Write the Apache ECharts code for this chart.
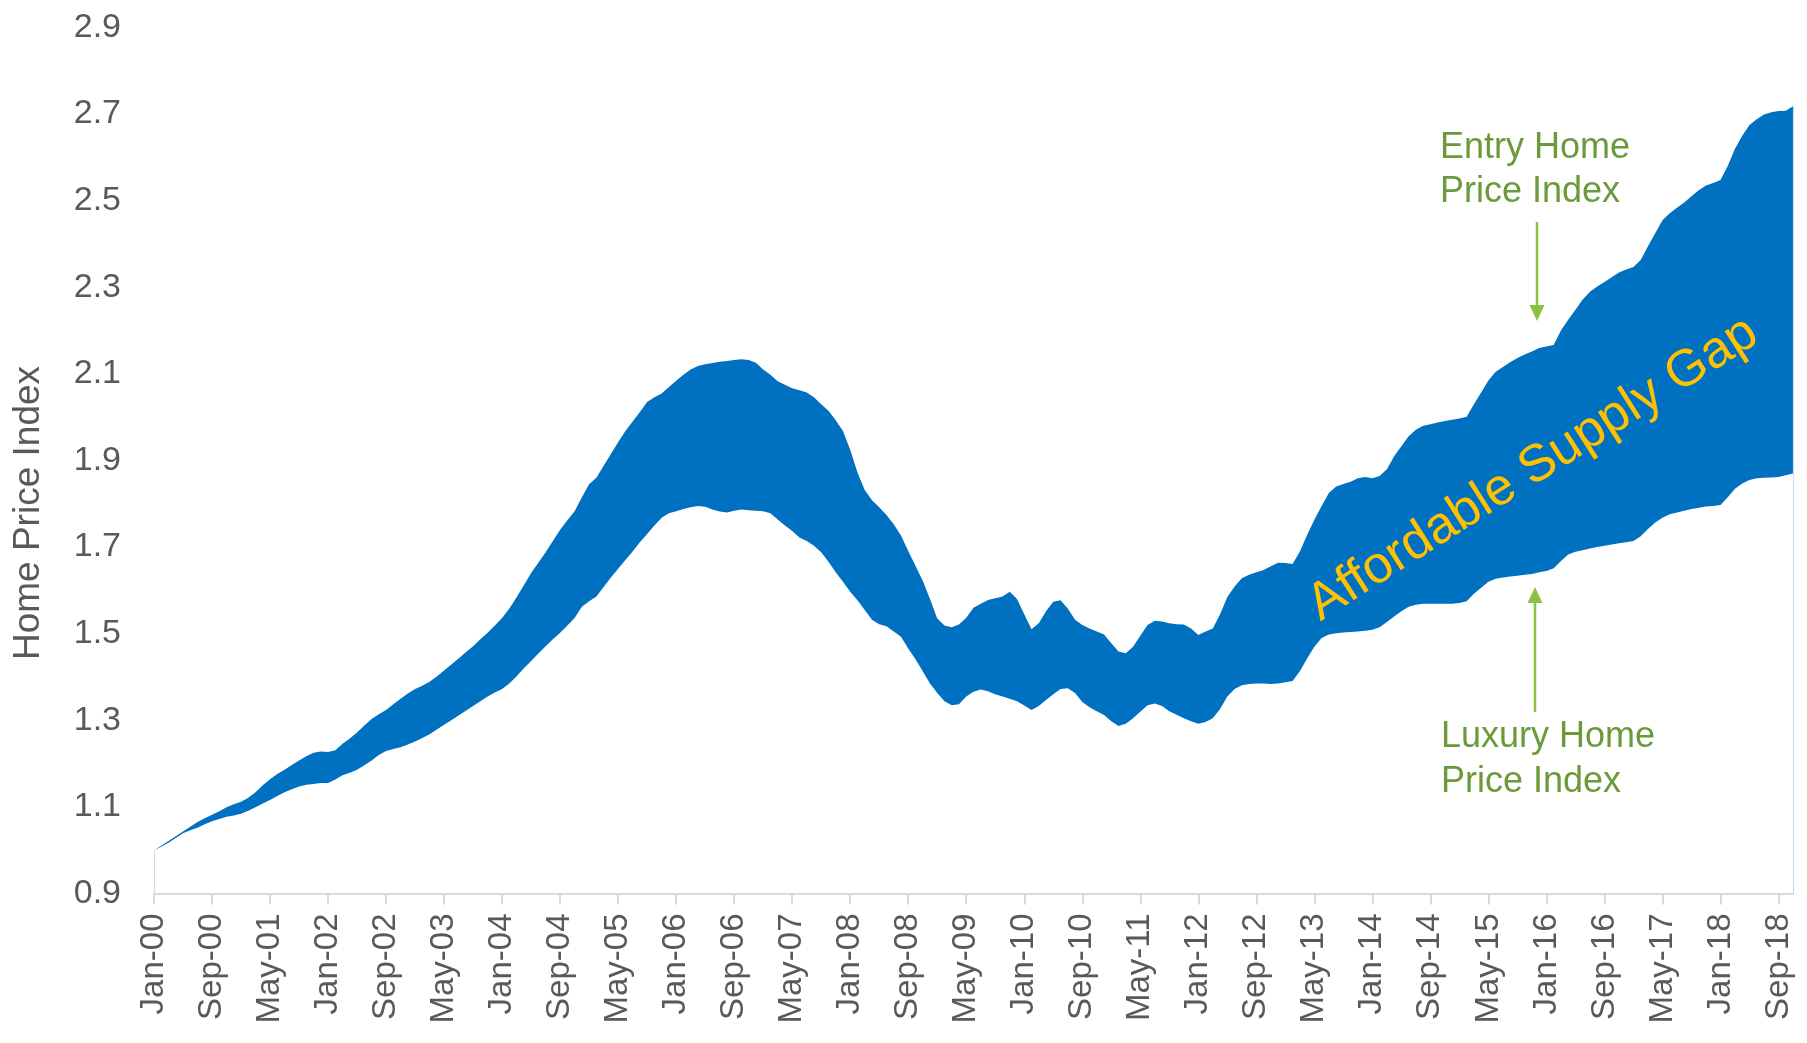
<!DOCTYPE html>
<html>
<head>
<meta charset="utf-8">
<title>Home Price Index</title>
<script src="https://cdn.jsdelivr.net/npm/echarts@6/dist/echarts.min.js"></script>
<style>
  html, body { margin: 0; padding: 0; background: #ffffff; }
  #chart { width: 1807px; height: 1043px; }
</style>
</head>
<body>
<div id="chart"></div>
<script>
// Monthly index values, Jan-2000 (= 1.0) through Nov-2018
const entryIndex = [
  1.000, 1.010, 1.021, 1.032, 1.043, 1.054, 1.065, 1.074, 1.082, 1.090, 1.099, 1.106,
  1.112, 1.121, 1.134, 1.150, 1.164, 1.176, 1.186, 1.197, 1.207, 1.217, 1.225, 1.228,
  1.227, 1.231, 1.246, 1.258, 1.272, 1.288, 1.303, 1.314, 1.324, 1.337, 1.350, 1.362,
  1.372, 1.380, 1.389, 1.401, 1.415, 1.429, 1.443, 1.457, 1.471, 1.487, 1.502, 1.519,
  1.536, 1.558, 1.584, 1.612, 1.640, 1.664, 1.688, 1.714, 1.740, 1.762, 1.783, 1.815,
  1.845, 1.860, 1.888, 1.915, 1.942, 1.968, 1.990, 2.012, 2.035, 2.046, 2.055, 2.070,
  2.084, 2.098, 2.110, 2.118, 2.122, 2.125, 2.128, 2.130, 2.132, 2.134, 2.132, 2.126,
  2.110, 2.098, 2.083, 2.075, 2.067, 2.062, 2.057, 2.046, 2.030, 2.015, 1.993, 1.968,
  1.925, 1.872, 1.832, 1.808, 1.792, 1.774, 1.753, 1.727, 1.691, 1.657, 1.622, 1.580,
  1.535, 1.519, 1.515, 1.521, 1.537, 1.560, 1.569, 1.578, 1.582, 1.586, 1.597, 1.580,
  1.545, 1.510, 1.524, 1.552, 1.574, 1.577, 1.558, 1.532, 1.520, 1.512, 1.505, 1.498,
  1.478, 1.459, 1.455, 1.470, 1.495, 1.520, 1.530, 1.528, 1.524, 1.522, 1.521, 1.512,
  1.497, 1.505, 1.512, 1.545, 1.585, 1.609, 1.628, 1.636, 1.642, 1.647, 1.656, 1.664,
  1.663, 1.661, 1.690, 1.728, 1.763, 1.795, 1.825, 1.840, 1.846, 1.851, 1.859, 1.862,
  1.859, 1.864, 1.880, 1.910, 1.933, 1.956, 1.971, 1.980, 1.984, 1.988, 1.991, 1.994,
  1.997, 2.001, 2.030, 2.057, 2.085, 2.105, 2.116, 2.127, 2.137, 2.145, 2.152, 2.160,
  2.163, 2.167, 2.200, 2.225, 2.248, 2.272, 2.290, 2.302, 2.312, 2.323, 2.334, 2.341,
  2.347, 2.363, 2.395, 2.425, 2.455, 2.471, 2.484, 2.496, 2.510, 2.524, 2.535, 2.541,
  2.548, 2.580, 2.620, 2.650, 2.675, 2.688, 2.699, 2.704, 2.707, 2.708, 2.718
];

const luxuryIndex = [
  1.000, 1.008, 1.017, 1.028, 1.039, 1.046, 1.052, 1.060, 1.067, 1.072, 1.077, 1.080,
  1.084, 1.091, 1.099, 1.108, 1.116, 1.125, 1.134, 1.141, 1.147, 1.151, 1.153, 1.155,
  1.155, 1.163, 1.173, 1.179, 1.186, 1.196, 1.207, 1.220, 1.229, 1.234, 1.238, 1.244,
  1.251, 1.259, 1.268, 1.279, 1.290, 1.300, 1.311, 1.322, 1.333, 1.344, 1.355, 1.364,
  1.372, 1.385, 1.402, 1.420, 1.437, 1.454, 1.471, 1.487, 1.502, 1.519, 1.536, 1.562,
  1.575, 1.586, 1.608, 1.630, 1.650, 1.670, 1.690, 1.711, 1.730, 1.750, 1.768, 1.778,
  1.783, 1.788, 1.792, 1.795, 1.793, 1.787, 1.782, 1.780, 1.784, 1.787, 1.785, 1.784,
  1.783, 1.778, 1.764, 1.750, 1.737, 1.722, 1.714, 1.703, 1.688, 1.666, 1.642, 1.620,
  1.597, 1.577, 1.555, 1.532, 1.522, 1.517, 1.505, 1.493, 1.466, 1.441, 1.413, 1.385,
  1.363, 1.344, 1.335, 1.337, 1.355, 1.366, 1.371, 1.367, 1.360, 1.355, 1.350, 1.344,
  1.334, 1.324, 1.333, 1.347, 1.360, 1.372, 1.374, 1.363, 1.342, 1.330, 1.321, 1.312,
  1.298, 1.287, 1.292, 1.305, 1.320, 1.335, 1.339, 1.333, 1.321, 1.313, 1.305, 1.298,
  1.292, 1.296, 1.305, 1.326, 1.355, 1.372, 1.381, 1.384, 1.385, 1.385, 1.384, 1.385,
  1.388, 1.391, 1.413, 1.443, 1.470, 1.490, 1.498, 1.501, 1.503, 1.504, 1.505, 1.507,
  1.509, 1.515, 1.527, 1.540, 1.552, 1.562, 1.567, 1.569, 1.569, 1.569, 1.569, 1.569,
  1.571, 1.575, 1.592, 1.606, 1.620, 1.627, 1.630, 1.632, 1.634, 1.636, 1.638, 1.642,
  1.645, 1.651, 1.668, 1.683, 1.689, 1.693, 1.697, 1.700, 1.703, 1.706, 1.709, 1.711,
  1.714, 1.725, 1.742, 1.757, 1.768, 1.776, 1.780, 1.784, 1.788, 1.791, 1.794, 1.795,
  1.797, 1.815, 1.835, 1.847, 1.855, 1.859, 1.860, 1.861, 1.862, 1.866, 1.870
];

const monthNames = ['Jan', 'Feb', 'Mar', 'Apr', 'May', 'Jun', 'Jul', 'Aug', 'Sep', 'Oct', 'Nov', 'Dec'];
const startYear = 2000;

// Month categories in "Mmm-YY" form
const categories = entryIndex.map((_, i) => {
  const yy = String((startYear + Math.floor(i / 12)) % 100).padStart(2, '0');
  return monthNames[i % 12] + '-' + yy;
});

// Vertical span between the two indices, stacked on top of the luxury line
const gapValues = entryIndex.map((v, i) => +(v - luxuryIndex[i]).toFixed(4));

const FONT = '"Liberation Sans", Arial, Helvetica, sans-serif';
const AXIS_TEXT = '#595959';
const ANNOT_TEXT = '#6A9A3A';
const ARROW = '#8DC043';
const lastIdx = categories.length - 1;

const chart = echarts.init(document.getElementById('chart'), null, { renderer: 'canvas' });

chart.setOption({
  animation: false,
  backgroundColor: '#ffffff',
  grid: { left: 154, right: 14, top: 27.5, bottom: 149.5, containLabel: false },
  xAxis: {
    type: 'category',
    data: categories,
    boundaryGap: false,
    axisLine: { show: true, lineStyle: { color: '#D9D9D9', width: 2 } },
    axisTick: { show: true, interval: 7, length: 11, lineStyle: { color: '#D9D9D9', width: 2 } },
    axisLabel: {
      interval: 7,
      rotate: 90,
      margin: 20,
      color: AXIS_TEXT,
      fontSize: 33,
      fontFamily: FONT
    },
    splitLine: { show: false }
  },
  yAxis: {
    type: 'value',
    min: 0.9,
    max: 2.9,
    interval: 0.2,
    axisLine: { show: false },
    axisTick: { show: false },
    splitLine: { show: false },
    axisLabel: {
      margin: 33,
      color: AXIS_TEXT,
      fontSize: 34,
      fontFamily: FONT,
      formatter: v => v.toFixed(1)
    }
  },
  series: [
    {
      name: 'Luxury Home Price Index',
      type: 'line',
      stack: 'band',
      data: luxuryIndex,
      symbol: 'none',
      smooth: false,
      silent: true,
      lineStyle: { width: 0, opacity: 0 },
      areaStyle: { color: 'rgba(255,255,255,0)' },
      emphasis: { disabled: true },
      markLine: {
        silent: true,
        symbol: 'none',
        label: { show: false },
        lineStyle: { color: '#C9DDF0', width: 1.2, type: 'solid' },
        data: [
          [{ coord: [categories[0], 0.9] }, { coord: [categories[0], luxuryIndex[0]] }],
          [{ coord: [categories[lastIdx], 0.9] }, { coord: [categories[lastIdx], entryIndex[lastIdx]] }]
        ]
      }
    },
    {
      name: 'Affordable Supply Gap',
      type: 'line',
      stack: 'band',
      data: gapValues,
      symbol: 'none',
      smooth: false,
      silent: true,
      lineStyle: { width: 0, opacity: 0 },
      areaStyle: { color: '#0070C0', opacity: 1 },
      emphasis: { disabled: true }
    }
  ],
  graphic: [
    {
      type: 'text',
      x: 29, y: 513,
      rotation: Math.PI / 2,
      z: 100,
      style: {
        text: 'Home Price Index',
        fill: AXIS_TEXT,
        font: '37px ' + FONT,
        align: 'center', verticalAlign: 'middle',
        textAlign: 'center', textVerticalAlign: 'middle'
      }
    },
    {
      type: 'text',
      x: 1533, y: 469,
      rotation: 32.5 * Math.PI / 180,
      z: 100,
      style: {
        text: 'Affordable Supply Gap',
        fill: '#FFC000',
        font: '52px ' + FONT,
        align: 'center', verticalAlign: 'middle',
        textAlign: 'center', textVerticalAlign: 'middle'
      }
    },
    {
      type: 'text',
      x: 1440, y: 170,
      z: 100,
      style: {
        text: 'Entry Home\nPrice Index',
        fill: ANNOT_TEXT,
        font: '36px ' + FONT,
        lineHeight: 44,
        align: 'left', verticalAlign: 'middle',
        textAlign: 'left', textVerticalAlign: 'middle'
      }
    },
    {
      type: 'text',
      x: 1441, y: 760,
      z: 100,
      style: {
        text: 'Luxury Home\nPrice Index',
        fill: ANNOT_TEXT,
        font: '36px ' + FONT,
        lineHeight: 45,
        align: 'left', verticalAlign: 'middle',
        textAlign: 'left', textVerticalAlign: 'middle'
      }
    },
    // arrow pointing down at the entry index edge
    {
      type: 'line',
      z: 100,
      shape: { x1: 1537, y1: 222, x2: 1537, y2: 308 },
      style: { stroke: ARROW, lineWidth: 2.5 }
    },
    {
      type: 'polygon',
      z: 100,
      shape: { points: [[1529.5, 305], [1544.5, 305], [1537, 321]] },
      style: { fill: ARROW }
    },
    // arrow pointing up at the luxury index edge
    {
      type: 'line',
      z: 100,
      shape: { x1: 1535, y1: 712, x2: 1535, y2: 600 },
      style: { stroke: ARROW, lineWidth: 2.5 }
    },
    {
      type: 'polygon',
      z: 100,
      shape: { points: [[1527.5, 603], [1542.5, 603], [1535, 587]] },
      style: { fill: ARROW }
    }
  ]
});
</script>
</body>
</html>
